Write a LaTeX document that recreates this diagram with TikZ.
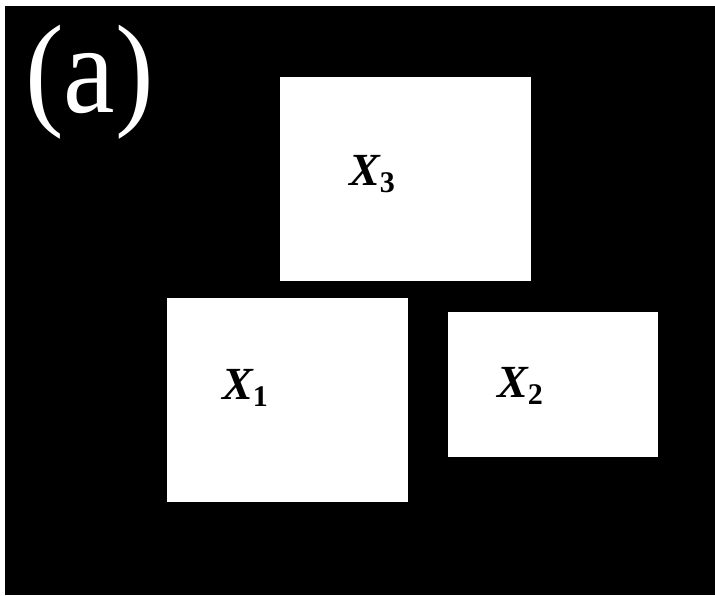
\documentclass[tikz,border=0pt]{standalone}
\usepackage{fontspec}
\setmainfont{Liberation Serif}
\newfontfamily\labfont{Liberation Serif}
\tikzset{
  panel/.style={draw=none, fill=white, inner sep=0pt, outer sep=0pt},
  varlabel/.style={anchor=base west, inner sep=0pt, text=black, font=\labfont\fontsize{46}{50}\selectfont\bfseries\itshape},
}
\newcommand{\subdig}[1]{\raisebox{-7pt}{\fontsize{30}{32}\selectfont\bfseries\upshape #1}}
\begin{document}
\begin{tikzpicture}[x=1pt,y=-1pt]
\useasboundingbox (0,0) rectangle (715,595);
\fill[white] (0,0) rectangle (715,595);
\fill[black] (5,6) rectangle (715,595);
\node[anchor=base west, inner sep=0pt, text=white, font=\labfont\fontsize{126}{130}\selectfont, xscale=0.92] (lab) at (25,112) {(a)};
\node[panel, anchor=north west, minimum width=251pt, minimum height=204pt] (x3) at (280,77) {};
\node[panel, anchor=north west, minimum width=241pt, minimum height=204pt] (x1) at (167,298) {};
\node[panel, anchor=north west, minimum width=210pt, minimum height=145pt] (x2) at (448,312) {};
\node[varlabel] (t3) at (349,185) {X\subdig{3}};
\node[varlabel] (t1) at (222,399) {X\subdig{1}};
\node[varlabel] (t2) at (497,397) {X\subdig{2}};
\end{tikzpicture}
\end{document}
